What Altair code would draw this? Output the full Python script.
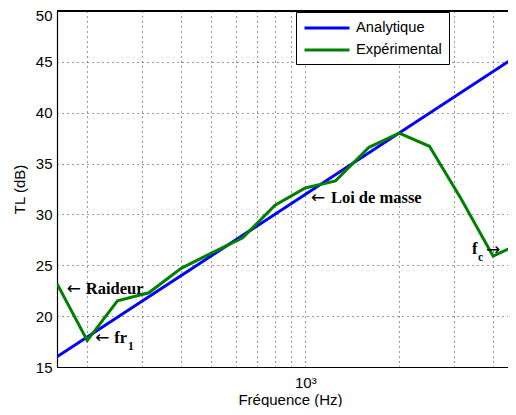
import altair as alt
import pandas as pd

# Experimental (third-octave bands)
freq_exp = [160, 200, 250, 315, 400, 500, 630, 800, 1000, 1250, 1600, 2000, 2500, 3150, 4000, 5000]
tl_exp = [23.2, 17.6, 21.5, 22.3, 24.7, 26.2, 27.7, 30.9, 32.6, 33.3, 36.6, 38.0, 36.7, 31.6, 25.9, 27.3]
# Analytique (mass law)
freq_ana = [160, 5000]
tl_ana = [16.0, 46.0]

series_names = ["Analytique", "Expérimental"]
series_colors = ["#0000FF", "#008000"]

grid_x = [200, 300, 400, 500, 600, 700, 800, 900, 1000, 2000, 3000, 4000]
ticks_y = [15, 20, 25, 30, 35, 40, 45, 50]

# annotation words (data coordinates)
word_text = ["Raideur", "fr", "Loi de masse", "f"]
word_freq = [198, 244, 1208, 3421]
word_tl = [22.67, 17.85, 31.62, 26.6]
# subscripts
sub_text = ["1", "c"]
sub_freq = [270, 3578]
sub_tl = [16.97, 25.72]
# arrows
arrow_text = ["\u2190", "\u2190", "\u2190", "\u2192"]
arrow_freq = [172, 212, 1043, 3794]
arrow_tl = [22.67, 17.85, 31.62, 26.5]

df = pd.DataFrame(
    {"freq": freq_ana + freq_exp,
     "tl": tl_ana + tl_exp,
     "series": [series_names[0]] * len(freq_ana) + [series_names[1]] * len(freq_exp)}
)
words = pd.DataFrame({"text": word_text, "freq": word_freq, "tl": word_tl})
subs = pd.DataFrame({"text": sub_text, "freq": sub_freq, "tl": sub_tl})
arrows = pd.DataFrame({"text": arrow_text, "freq": arrow_freq, "tl": arrow_tl})

xscale = alt.Scale(type="log", domain=[160, 4464], nice=False)
yscale = alt.Scale(domain=[15, 50], nice=False)

FONT = "Liberation Sans"

lines = alt.Chart(df).mark_line(strokeWidth=3, clip=True).encode(
    x=alt.X("freq:Q", scale=xscale,
            axis=alt.Axis(values=grid_x, labelExpr="datum.value == 1000 ? '10\u00b3' : ''",
                          grid=True, gridDash=[1, 4], gridColor="#333", gridWidth=1,
                          ticks=False, domainColor="black", domainWidth=1.2,
                          labelFont=FONT, labelFontSize=15, labelColor="black", labelPadding=8,
                          labelOverlap=False,
                          title="Fréquence (Hz)", titleFont=FONT, titleFontSize=15,
                          titleFontWeight="normal", titleColor="black",
                          titleBaseline="alphabetic", titleY=37, titleX=233)),
    y=alt.Y("tl:Q", scale=yscale,
            axis=alt.Axis(values=ticks_y, grid=True, gridDash=[1, 4], gridColor="#333", gridWidth=1,
                          ticks=False, domainColor="black", domainWidth=1.2,
                          labelFont=FONT, labelFontSize=15, labelColor="black", labelPadding=5,
                          labelOffset={"condition": {"test": "datum.value == 50", "value": 4.5}, "value": 0},
                          title="TL (dB)", titleFont=FONT, titleFontSize=15,
                          titleFontWeight="normal", titleColor="black", titlePadding=8)),
    color=alt.Color("series:N", scale=alt.Scale(domain=series_names, range=series_colors),
                    legend=alt.Legend(orient="none", legendX=239, legendY=1, title=None,
                                      strokeColor="black", fillColor="white", padding=7,
                                      symbolType="M-1,0H5", symbolSize=225, symbolStrokeWidth=3,
                                      symbolFillColor="transparent",
                                      labelFont=FONT, labelFontSize=14.7, labelColor="black",
                                      rowPadding=6, labelOffset=35, cornerRadius=0)),
)

top_border = alt.Chart(df).mark_rule(color="black", strokeWidth=1.2).encode(
    y=alt.datum(50, scale=yscale)
)

word_marks = alt.Chart(words).mark_text(
    font="Liberation Serif", fontWeight="bold", fontSize=16.5, align="left", baseline="middle", color="black"
).encode(x=alt.X("freq:Q", scale=xscale), y=alt.Y("tl:Q", scale=yscale), text="text:N")

sub_marks = alt.Chart(subs).mark_text(
    font="Liberation Serif", fontWeight="bold", fontSize=11.5, align="left", baseline="middle", color="black"
).encode(x=alt.X("freq:Q", scale=xscale), y=alt.Y("tl:Q", scale=yscale), text="text:N")

arrow_marks = alt.Chart(arrows).mark_text(
    font="DejaVu Sans", fontWeight="normal", fontSize=17, align="left", baseline="middle", color="black"
).encode(x=alt.X("freq:Q", scale=xscale), y=alt.Y("tl:Q", scale=yscale), text="text:N")

chart = alt.layer(lines, top_border, word_marks, sub_marks, arrow_marks).properties(
    width=451, height=356,
    autosize=alt.AutoSizeParams(type="none"),
    padding={"left": 49, "top": 3, "right": 0, "bottom": 40},
).configure_view(stroke=None)

chart.save("out.html", embed_options={"renderer": "svg", "actions": False})
